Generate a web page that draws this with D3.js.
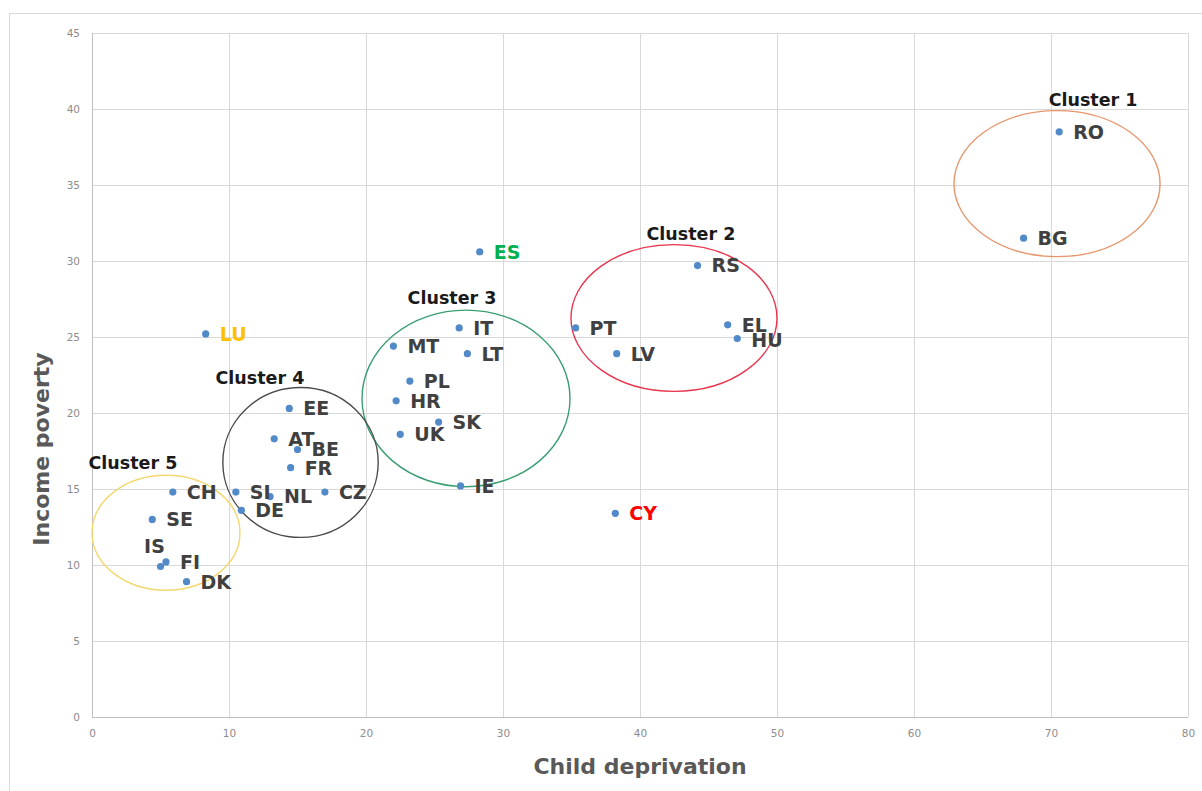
<!DOCTYPE html>
<html>
<head>
<meta charset="utf-8">
<script src="https://cdn.jsdelivr.net/npm/d3@7"></script>
<style>
  html, body { margin: 0; padding: 0; background: #fff; }
  svg { display: block; }
</style>
</head>
<body>
<svg id="chart" width="1202" height="791"></svg>
<script>
// ---------- data ----------
const countries = ["RO","BG","ES","RS","PT","EL","HU","LV","CY","LU","IT","MT","LT","PL","HR","SK","UK","IE","EE","AT","BE","FR","SI","NL","DE","CZ","CH","SE","IS","FI","DK"];
const childDeprivation = [70.6,68.0,28.3,44.2,35.3,46.4,47.1,38.3,38.2,8.3,26.8,22.0,27.4,23.2,22.2,25.3,22.5,26.9,14.4,13.3,15.0,14.5,10.5,13.0,10.9,17.0,5.9,4.4,5.0,5.4,6.9];
const incomePoverty    = [38.5,31.5,30.6,29.7,25.6,25.8,24.9,23.9,13.4,25.2,25.6,24.4,23.9,22.1,20.8,19.4,18.6,15.2,20.3,18.3,17.6,16.4,14.8,14.5,13.6,14.8,14.8,13.0,9.9,10.2,8.9];
const highlighted = {ES: "#00b050", LU: "#ffc000", CY: "#ff0000"};

const clusterNames = ["Cluster 1","Cluster 2","Cluster 3","Cluster 4","Cluster 5"];
const clusterCx = [70.44, 42.48, 27.30, 15.22, 5.40];
const clusterCy = [35.09, 26.25, 20.96, 16.75, 12.12];
const clusterRx = [7.52, 7.52, 7.59, 5.67, 5.40];
const clusterRy = [4.80, 4.83, 5.81, 4.93, 3.78];
const clusterLabelX = [73.07, 43.72, 26.28, 12.26, 2.99];
const clusterLabelY = [40.6, 31.8, 27.6, 22.34, 16.69];
const clusterColors = ["#e8956b", "#e8354e", "#3a9e72", "#4a4a4a", "#f5d76e"];

const xTicks = [0,10,20,30,40,50,60,70,80];
const yTicks = [0,5,10,15,20,25,30,35,40,45];

// ---------- layout ----------
const svg = d3.select("#chart");
const plotLeft = 92, plotRight = 1188, plotTop = 33, plotBottom = 717;
const x = d3.scaleLinear().domain([0,80]).range([plotLeft,plotRight]);
const y = d3.scaleLinear().domain([0,45]).range([plotBottom,plotTop]);
const FONT = "'DejaVu Sans', Verdana, sans-serif";

// outer frame
svg.append("rect").attr("x",9.5).attr("y",13.5).attr("width",1200).attr("height",790)
  .attr("fill","none").attr("stroke","#d9d9d9").attr("stroke-width",1);

// gridlines
svg.append("g").selectAll("line").data(yTicks).join("line")
  .attr("x1",plotLeft).attr("x2",plotRight).attr("y1",d=>Math.round(y(d))+0.5).attr("y2",d=>Math.round(y(d))+0.5)
  .attr("stroke",d=>d===0?"#bfbfbf":"#d9d9d9").attr("stroke-width",1);
svg.append("g").selectAll("line").data(xTicks).join("line")
  .attr("y1",plotTop).attr("y2",plotBottom).attr("x1",d=>Math.round(x(d))+0.5).attr("x2",d=>Math.round(x(d))+0.5)
  .attr("stroke",d=>d===0?"#bfbfbf":"#d9d9d9").attr("stroke-width",1);

// axes (tick labels only)
const xAxis = d3.axisBottom(x).tickValues(xTicks).tickSize(0).tickPadding(13);
const yAxis = d3.axisLeft(y).tickValues(yTicks).tickSize(0).tickPadding(12);
const gx = svg.append("g").attr("transform",`translate(0,${plotBottom})`).call(xAxis);
const gy = svg.append("g").attr("transform",`translate(${plotLeft},0)`).call(yAxis);
[gx,gy].forEach(g=>{
  g.select(".domain").remove();
  g.selectAll("text").attr("fill","#8c8c8c").style("font-family",FONT).style("font-size","10.5px");
});

// axis titles
svg.append("text").attr("x",(plotLeft+plotRight)/2).attr("y",774).attr("text-anchor","middle")
  .attr("fill","#595959").style("font-family",FONT)
  .style("font-weight","bold").style("font-size","22px").text("Child deprivation");
svg.append("text").attr("transform",`translate(49,449) rotate(-90)`).attr("text-anchor","middle")
  .attr("fill","#595959").style("font-family",FONT)
  .style("font-weight","bold").style("font-size","22px").text("Income poverty");

// cluster ellipses
const clusters = clusterNames.map((n,i)=>({name:n,cx:clusterCx[i],cy:clusterCy[i],rx:clusterRx[i],ry:clusterRy[i],lx:clusterLabelX[i],ly:clusterLabelY[i],color:clusterColors[i]}));
svg.append("g").selectAll("ellipse").data(clusters).join("ellipse")
  .attr("cx",d=>x(d.cx)).attr("cy",d=>y(d.cy))
  .attr("rx",d=>x(d.rx)-x(0)).attr("ry",d=>y(0)-y(d.ry))
  .attr("fill","none").attr("stroke",d=>d.color).attr("stroke-width",1.4);
svg.append("g").selectAll("text").data(clusters).join("text")
  .attr("x",d=>x(d.lx)).attr("y",d=>y(d.ly)).attr("dy","0.35em").attr("text-anchor","middle")
  .attr("fill","#1a1a1a").style("font-family",FONT)
  .style("font-weight","bold").style("font-size","17.5px").text(d=>d.name);

// points
const pts = countries.map((c,i)=>({code:c,x:childDeprivation[i],y:incomePoverty[i]}));
svg.append("g").selectAll("circle").data(pts).join("circle")
  .attr("cx",d=>x(d.x)).attr("cy",d=>y(d.y)).attr("r",3.6).attr("fill","#5289c8");

// country labels
svg.append("g").selectAll("text").data(pts).join("text")
  .attr("x",d=>d.code==="IS" ? x(d.x)-6 : x(d.x)+14)
  .attr("y",d=>d.code==="IS" ? y(d.y)-20 : (d.code==="HU" ? y(d.y)+2 : y(d.y)))
  .attr("dy","0.36em")
  .attr("text-anchor",d=>d.code==="IS"?"middle":"start")
  .attr("fill",d=>highlighted[d.code]||"#404040")
  .style("font-family",FONT)
  .style("font-weight","bold").style("font-size","19px").text(d=>d.code);
</script>
</body>
</html>
